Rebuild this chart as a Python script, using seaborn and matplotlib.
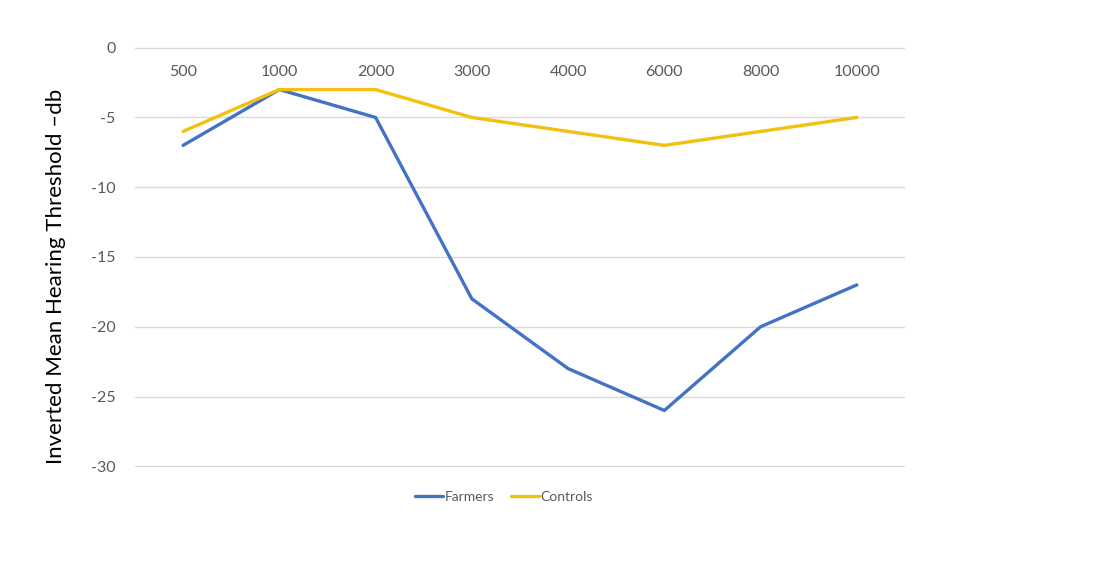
import numpy as np
import pandas as pd
import matplotlib.pyplot as plt
import seaborn as sns

# data
frequencies = ["500", "1000", "2000", "3000", "4000", "6000", "8000", "10000"]
farmers = [-7, -3, -5, -18, -23, -26, -20, -17]
controls = [-6, -3, -3, -5, -6, -7, -6, -5]
series_names = ["Farmers", "Controls"]
y_ticks = [0, -5, -10, -15, -20, -25, -30]

df = pd.DataFrame({
    "freq": frequencies * 2,
    "value": farmers + controls,
    "group": [series_names[0]] * len(frequencies) + [series_names[1]] * len(frequencies),
})

sns.set_style("white")
plt.rcParams["font.family"] = ["Lato", "DejaVu Sans"]
plt.rcParams["axes.unicode_minus"] = False

fig = plt.figure(figsize=(11.12, 5.86), dpi=100)
ax = fig.add_axes([0.1214, 0.2031, 0.6924, 0.7167])

sns.lineplot(
    data=df, x="freq", y="value", hue="group", sort=False,
    palette={"Farmers": "#4472C4", "Controls": "#F2C00F"},
    linewidth=2.4, ax=ax,
)

ax.set_xlim(-0.5, len(frequencies) - 0.5)
ax.set_ylim(-30.05, 0.05)
ax.set_yticks(y_ticks)
ax.yaxis.grid(True, color="#d9d9d9", linewidth=1)
ax.xaxis.grid(False)
for s in ax.spines.values():
    s.set_visible(False)

ax.xaxis.tick_top()
ax.tick_params(axis="x", length=0, pad=-23, labelsize=11.5, labelcolor="#595959")
ax.tick_params(axis="y", length=0, pad=14, labelsize=11.5, labelcolor="#595959")
ax.set_xlabel("")
ax.set_ylabel("Inverted Mean Hearing Threshold \u2013db", fontsize=16, color="black")
ax.yaxis.set_label_coords(-0.09, 0.455)

leg = ax.legend(
    loc="center", bbox_to_anchor=(0.479, -0.071), ncol=2, frameon=False,
    fontsize=10, handlelength=2.0, handletextpad=0.1, columnspacing=1.2,
)
for t in leg.get_texts():
    t.set_color("#595959")

fig.savefig("out.png", dpi=100)
